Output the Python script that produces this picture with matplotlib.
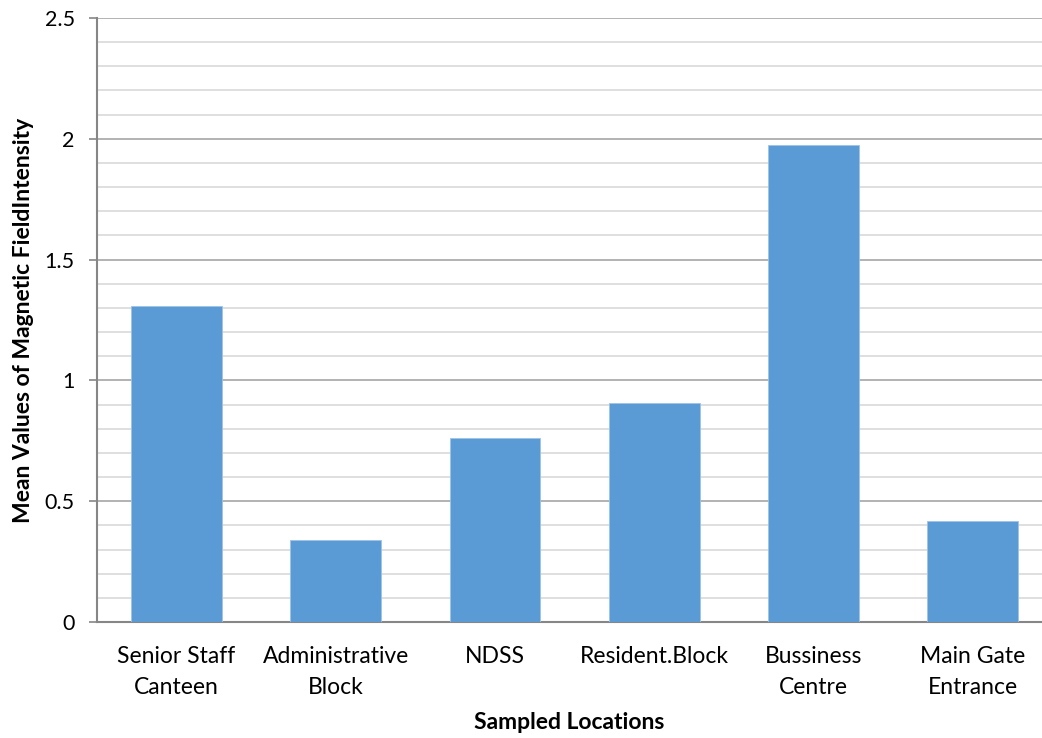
import matplotlib
matplotlib.use("Agg")
import matplotlib.pyplot as plt
from matplotlib.ticker import MultipleLocator, FuncFormatter

categories = ["Senior Staff\nCanteen", "Administrative\nBlock", "NDSS",
              "Resident.Block", "Bussiness\nCentre", "Main Gate\nEntrance"]
values = [1.308, 0.339, 0.762, 0.906, 1.974, 0.418]

plt.rcParams['font.family'] = ['Lato', 'DejaVu Sans']

fig = plt.figure(figsize=(10.42, 7.38), dpi=100)
ax = fig.add_axes([97/1042, 1-622/738, 1-97/1042, (622-18)/738])

x = list(range(len(categories)))
ax.bar(x, values, width=0.57, color="#5B9BD5", edgecolor="#9DC3E6", linewidth=0.6, zorder=3)

ax.set_xlim(-0.5, 5.435)
ax.set_ylim(0, 2.5)
ax.yaxis.set_major_locator(MultipleLocator(0.5))
ax.yaxis.set_minor_locator(MultipleLocator(0.1))
ax.yaxis.set_major_formatter(FuncFormatter(lambda v, p: f"{v:g}"))
ax.grid(which="major", axis="y", color="#A6A6A6", linewidth=1.2, zorder=0)
ax.grid(which="minor", axis="y", color="#D9D9D9", linewidth=1.2, zorder=0)

ax.set_xticks(x)
ax.set_xticklabels(categories, fontsize=16.5, linespacing=1.55)
ax.tick_params(axis="x", length=0, pad=17.5)
ax.tick_params(axis="y", which="major", length=6, width=1.2, color="#868686", labelsize=15.5, pad=10)
ax.tick_params(axis="y", which="minor", length=0)

for s in ["top", "right"]:
    ax.spines[s].set_visible(False)
for s in ["left", "bottom"]:
    ax.spines[s].set_color("#868686")
    ax.spines[s].set_linewidth(1.5)

ax.set_ylabel("Mean Values of Magnetic FieldIntensity", fontsize=16.5, fontweight="bold", labelpad=8)
ax.set_xlabel("Sampled Locations", fontsize=16.5, fontweight="bold", labelpad=10)

fig.savefig("out.png", dpi=100)
